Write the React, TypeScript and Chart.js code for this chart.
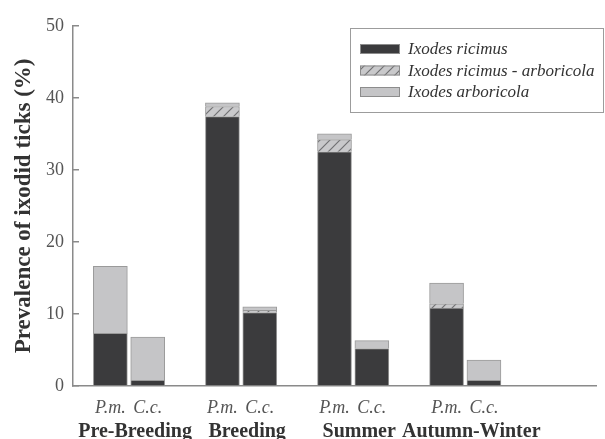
import { useEffect, useRef } from 'react';
import { Chart, registerables } from 'chart.js';

Chart.register(...registerables);

// ---- data ----
const seasons = ['Pre-Breeding', 'Breeding', 'Summer', 'Autumn-Winter'];
const hosts = ['P.m.', 'C.c.'];
const seriesNames = ['Ixodes ricimus', 'Ixodes ricimus - arboricola', 'Ixodes arboricola'];
// order: Pre P.m., Pre C.c., Breeding P.m., Breeding C.c., Summer P.m., Summer C.c., Autumn P.m., Autumn C.c.
const ricimus = [7.3, 0.8, 37.4, 10.2, 32.5, 5.2, 10.8, 0.8];
const ricimusArboricola = [0, 0, 1.4, 0.3, 1.7, 0, 0.6, 0];
const arboricola = [9.3, 6.0, 0.5, 0.5, 0.8, 1.1, 2.9, 2.8];
const yMin = 0;
const yMax = 50;
const yStep = 10;
const yTitle = 'Prevalence of ixodid ticks (%)';

const SERIF = '"Liberation Serif", "Times New Roman", serif';

// slot layout: spacer, P.m., C.c., spacer, P.m., C.c., ... plus trailing spacers
function buildSlots() {
  const labels: string[] = [''];
  const index: (number | null)[] = [null];
  const seasonAt: number[] = [];
  let k = 0;
  seasons.forEach(() => {
    const first = labels.length;
    hosts.forEach((h) => {
      labels.push(h);
      index.push(k++);
    });
    seasonAt.push(first + (hosts.length - 1) / 2);
    labels.push('');
    index.push(null);
  });
  labels.push('', '');
  index.push(null, null);
  // half-slot resolution labels for the season axis
  const seasonLabels: string[] = new Array(2 * (labels.length - 1) + 1).fill('');
  seasonAt.forEach((pos, g) => {
    seasonLabels[Math.round(pos * 2)] = seasons[g];
  });
  return { labels, index, seasonLabels };
}

function makeHatch(): CanvasPattern | string {
  const c = document.createElement('canvas');
  c.width = 10;
  c.height = 10;
  const g = c.getContext('2d');
  if (!g) return '#c8c8c8';
  g.fillStyle = '#c9c9cb';
  g.fillRect(0, 0, 10, 10);
  g.strokeStyle = '#727274';
  g.lineWidth = 1.2;
  g.beginPath();
  g.moveTo(0, 10);
  g.lineTo(10, 0);
  g.moveTo(-1, 1);
  g.lineTo(1, -1);
  g.moveTo(9, 11);
  g.lineTo(11, 9);
  g.stroke();
  return g.createPattern(c, 'repeat') || '#c8c8c8';
}

const boxLegend = {
  id: 'boxLegend',
  afterDraw(chart: any) {
    const ctx = chart.ctx as CanvasRenderingContext2D;
    const area = chart.chartArea;
    const x0 = area.left + 277;
    const y0 = 28;
    const w = chart.width - x0 - 2;
    const h = 84;
    ctx.save();
    ctx.strokeStyle = '#9c9c9c';
    ctx.lineWidth = 1;
    ctx.strokeRect(Math.round(x0) + 0.5, y0 + 0.5, Math.round(w), h);
    chart.data.datasets.forEach((ds: any, i: number) => {
      const cy = y0 + 21 + i * 21.5;
      const sx = x0 + 10;
      ctx.fillStyle = ds.backgroundColor;
      ctx.fillRect(sx, cy - 5, 40, 10);
      ctx.strokeStyle = '#8c8c8c';
      ctx.strokeRect(sx + 0.5, cy - 4.5, 39, 9);
      ctx.fillStyle = '#333333';
      ctx.font = `italic 17px ${SERIF}`;
      ctx.textBaseline = 'middle';
      ctx.textAlign = 'left';
      ctx.fillText(ds.label, sx + 48, cy + 1);
    });
    ctx.restore();
  },
};

export default function App() {
  const ref = useRef<HTMLCanvasElement | null>(null);

  useEffect(() => {
    if (!ref.current) return;
    const { labels, index, seasonLabels } = buildSlots();
    const pick = (arr: number[]) => index.map((i) => (i === null ? null : arr[i]));
    const hatch = makeHatch();
    const seriesData = [ricimus, ricimusArboricola, arboricola];
    const fills: any[] = ['#3b3b3d', hatch, '#c5c5c7'];

    const chart = new Chart(ref.current, {
      type: 'bar',
      data: {
        labels,
        datasets: seriesNames.map((name, i) => ({
          label: name,
          data: pick(seriesData[i]),
          backgroundColor: fills[i],
          borderColor: '#9a9a9a',
          borderWidth: 1,
          barThickness: 34,
          stack: 's',
        })),
      },
      options: {
        animation: false,
        responsive: true,
        maintainAspectRatio: false,
        layout: { padding: { left: 0, right: 9, top: 20, bottom: 0 } },
        plugins: {
          legend: { display: false },
          tooltip: { enabled: false },
        },
        scales: {
          x: {
            type: 'category',
            stacked: true,
            offset: false,
            weight: 0,
            grid: { display: false },
            border: { display: true, color: '#8a8a8a', width: 1.5 },
            ticks: {
              autoSkip: false,
              maxRotation: 0,
              minRotation: 0,
              padding: 3,
              color: '#555555',
              font: { family: SERIF, size: 18, style: 'italic' },
            },
            afterFit: (s: any) => {
              s.height = 28;
            },
          },
          x2: {
            type: 'category',
            labels: seasonLabels,
            position: 'bottom',
            offset: false,
            weight: 1,
            grid: { display: false, offset: false },
            border: { display: false },
            ticks: {
              autoSkip: false,
              maxRotation: 0,
              minRotation: 0,
              padding: -2,
              labelOffset: 6,
              color: '#333333',
              font: { family: SERIF, size: 20, weight: 'bold' },
            },
            afterFit: (s: any) => {
              s.height = 25;
            },
          },
          y: {
            type: 'linear',
            stacked: true,
            min: yMin,
            max: yMax,
            ticks: {
              stepSize: yStep,
              padding: 15,
              color: '#555555',
              font: { family: SERIF, size: 18 },
            },
            grid: {
              display: true,
              drawOnChartArea: false,
              drawTicks: true,
              tickLength: -6,
              color: '#8a8a8a',
              lineWidth: 1.5,
            },
            border: { display: true, color: '#8a8a8a', width: 1.5 },
            title: {
              display: true,
              text: yTitle,
              color: '#333333',
              padding: { top: 10, bottom: 0 },
              font: { family: SERIF, size: 23, weight: 'bold' },
            },
            afterFit: (s: any) => {
              s.width = 73;
            },
          },
        },
      },
      plugins: [boxLegend],
    });
    return () => chart.destroy();
  }, []);

  return (
    <div style={{ position: 'fixed', left: 0, top: 0, width: 605, height: 439, background: '#ffffff' }}>
      <canvas ref={ref} />
    </div>
  );
}
